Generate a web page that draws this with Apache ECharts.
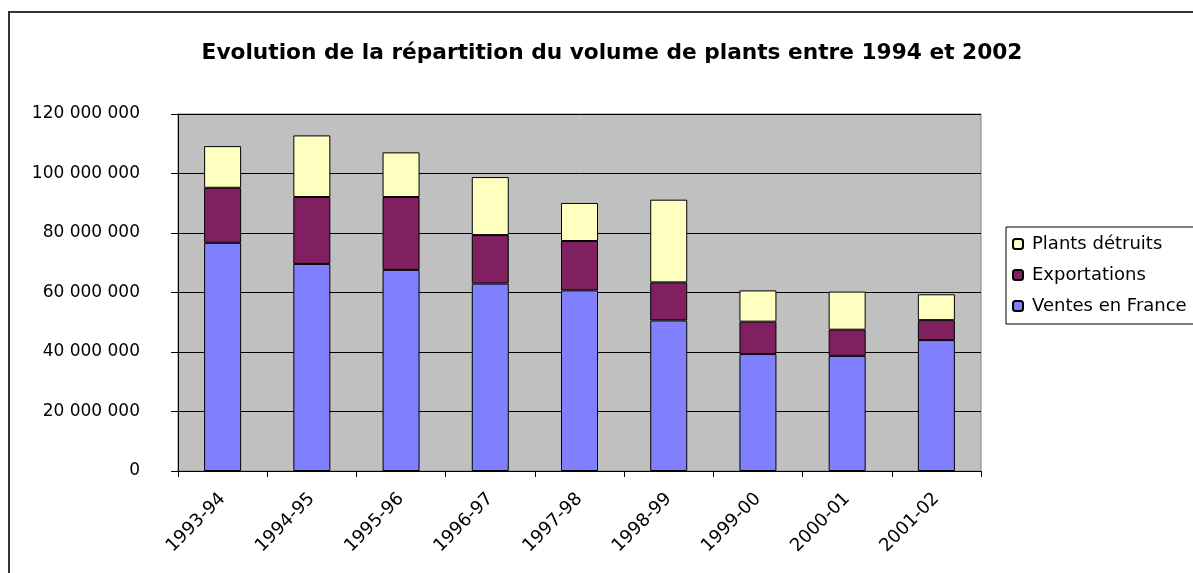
<!DOCTYPE html>
<html>
<head>
<meta charset="utf-8">
<script src="https://cdn.jsdelivr.net/npm/echarts@6/dist/echarts.min.js"></script>
<style>
  html, body { margin: 0; padding: 0; background: #fff; }
  #main { width: 1193px; height: 573px; }
</style>
</head>
<body>
<div id="main"></div>
<script>
// campagnes
var campagnes = ['1993-94', '1994-95', '1995-96', '1996-97', '1997-98', '1998-99', '1999-00', '2000-01', '2001-02'];
// volumes (nombre de plants)
var ventesFrance = [76700000, 69600000, 67600000, 63000000, 60700000, 50600000, 39300000, 38700000, 44000000];
var exportations = [18500000, 22500000, 24500000, 16300000, 16600000, 12800000, 10900000, 8800000, 6700000];
var plantsDetruits = [14000000, 20700000, 15000000, 19500000, 12800000, 27800000, 10500000, 12800000, 8700000];

var font = 'DejaVu Sans, Liberation Sans, Arial, sans-serif';

function fmt(v) {
    return String(v).replace(/\B(?=(\d{3})+(?!\d))/g, ' ');
}

var myChart = echarts.init(document.getElementById('main'));

var option = {
    backgroundColor: '#fff',
    animation: false,
    textStyle: { fontFamily: font },
    title: {
        text: 'Evolution de la répartition du volume de plants entre 1994 et 2002',
        left: 607,
        textAlign: 'center',
        top: 37,
        textStyle: { fontSize: 21.7, fontWeight: 'bold', color: '#000', fontFamily: font }
    },
    graphic: [{
        type: 'rect',
        shape: { x: 9, y: 12, width: 1250, height: 620 },
        style: { fill: 'none', stroke: '#333', lineWidth: 2 },
        silent: true
    }],
    legend: {
        orient: 'vertical',
        left: 1006,
        top: 227,
        data: ['Plants détruits', 'Exportations', 'Ventes en France'],
        itemWidth: 10,
        itemHeight: 10,
        itemGap: 13,
        padding: [8, 20, 9, 6],
        borderColor: '#000',
        borderWidth: 1,
        textStyle: { fontSize: 18, color: '#000', fontFamily: font, padding: [0, 0, 0, 4] }
    },
    grid: {
        left: 178,
        right: 212,
        top: 114,
        bottom: 102,
        show: true,
        backgroundColor: '#C0C0C0',
        borderColor: '#808080',
        borderWidth: 1
    },
    xAxis: {
        type: 'category',
        data: campagnes,
        axisLine: { lineStyle: { color: '#000' } },
        axisTick: { show: true, length: 6, lineStyle: { color: '#000' } },
        axisLabel: { rotate: 45, fontSize: 18, color: '#000', margin: 25 }
    },
    yAxis: {
        type: 'value',
        min: 0,
        max: 120000000,
        interval: 20000000,
        axisLine: { show: true, lineStyle: { color: '#000' } },
        axisTick: { show: true, length: 7, lineStyle: { color: '#000' } },
        axisLabel: { fontSize: 17, color: '#000', margin: 38, formatter: fmt },
        splitLine: { lineStyle: { color: '#000', width: 1 } }
    },
    series: [{
        name: 'Ventes en France',
        type: 'bar',
        stack: 'total',
        barWidth: 37,
        data: ventesFrance,
        itemStyle: { color: '#8080FF', borderColor: '#000', borderWidth: 1 }
    }, {
        name: 'Exportations',
        type: 'bar',
        stack: 'total',
        data: exportations,
        itemStyle: { color: '#802060', borderColor: '#000', borderWidth: 1 }
    }, {
        name: 'Plants détruits',
        type: 'bar',
        stack: 'total',
        data: plantsDetruits,
        itemStyle: { color: '#FFFFC0', borderColor: '#000', borderWidth: 1 }
    }]
};

myChart.setOption(option);
</script>
</body>
</html>
